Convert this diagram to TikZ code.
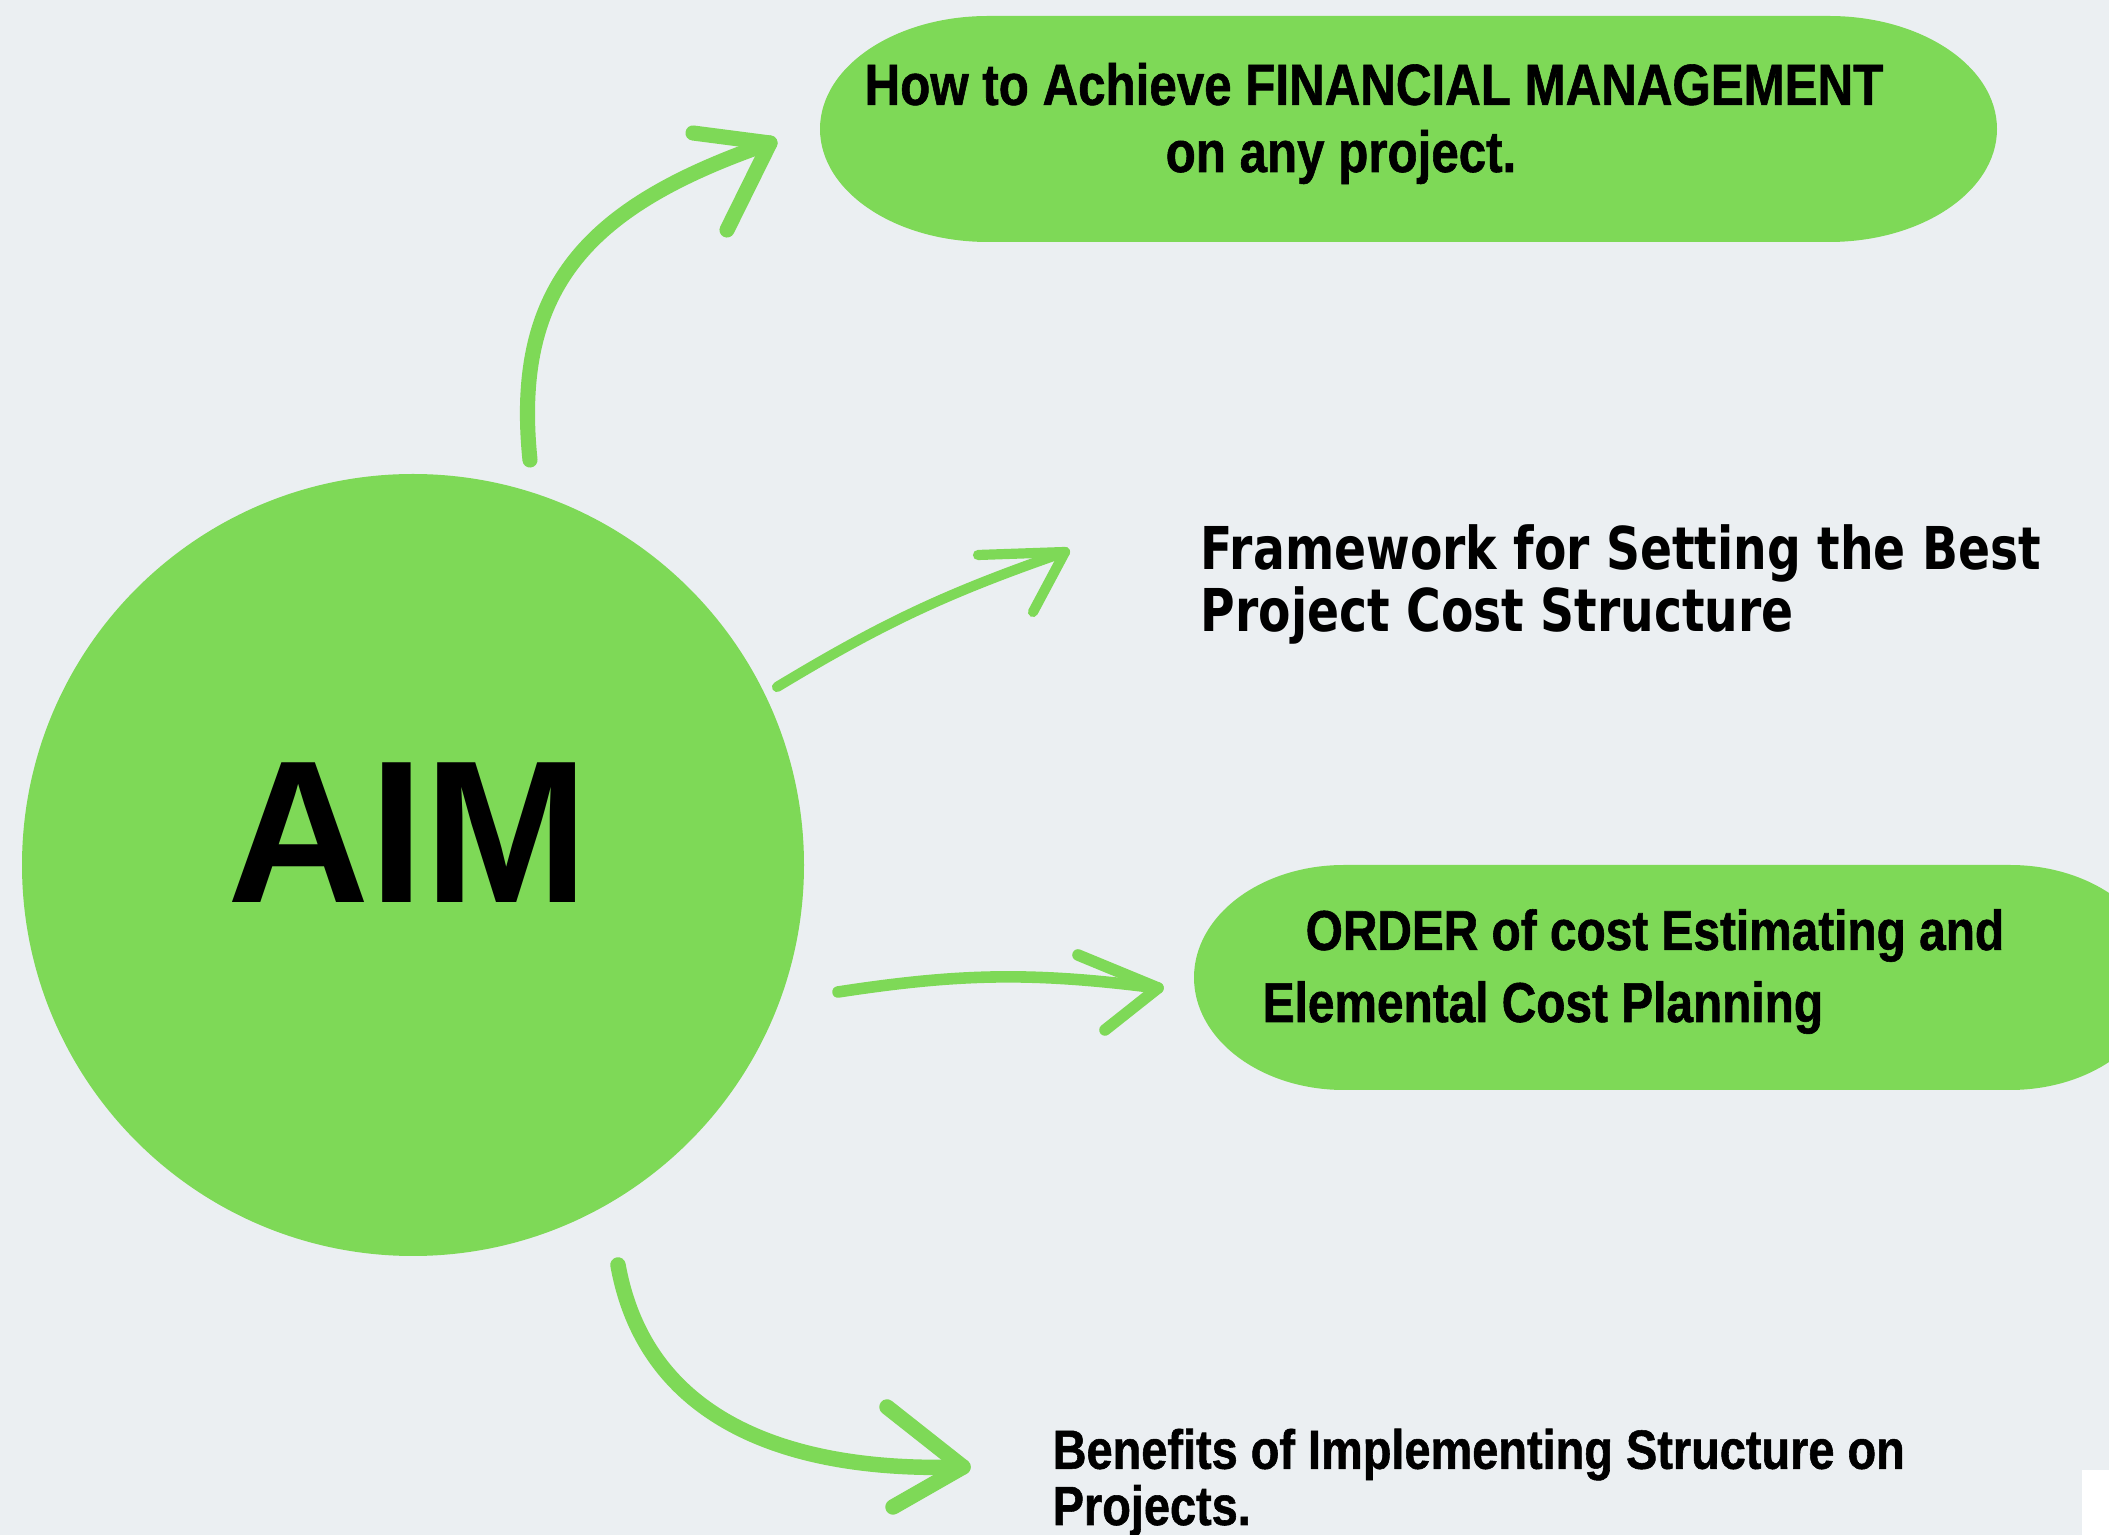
\documentclass[tikz,border=0pt]{standalone}
\usepackage{fontspec}
\usepackage{tikz}
\newfontfamily\headfont{Liberation Sans}[FakeStretch=0.85, FakeBold=1, UprightFont={* Bold}]
\newfontfamily\aimfont{Liberation Sans}[FakeStretch=0.97, UprightFont={* Bold}]
\newfontfamily\framefont{DejaVu Sans}[FakeStretch=0.80, UprightFont={* Bold}]
\definecolor{aimgreen}{HTML}{7ED957}
\definecolor{paper}{HTML}{EBEFF2}
\tikzset{
  brush/.style={draw=aimgreen, line width=3.6pt, line cap=round, line join=round},
  topic/.style={text=black, align=left, inner sep=0pt, anchor=base west},
}

\begin{document}
\begin{tikzpicture}
    \useasboundingbox (0,0) rectangle (21.09,15.35);
    \clip (0,0) rectangle (21.09,15.35);
    \fill [paper] (0,0) rectangle (21.09,15.35);
    \fill [white] (20.82,0) rectangle (21.09,0.65);
    %% central disc
    \node [circle, fill=aimgreen, minimum size=7.82cm, inner sep=0pt] (aim) at (4.13,6.70) {};
    \node [anchor=base, inner sep=0pt, font=\aimfont\fontsize{57.8}{60}\selectfont] (aimlabel) at (4.08,6.325) {AIM};
    %% pill boxes
    \fill [aimgreen] (9.88,15.19) -- (18.29,15.19) arc [start angle=90, end angle=-90, x radius=1.68, y radius=1.13]
      -- (9.88,12.93) arc [start angle=270, end angle=90, x radius=1.68, y radius=1.13] -- cycle;
    \fill [aimgreen] (13.44,6.70) -- (20.10,6.70) arc [start angle=90, end angle=-90, x radius=1.5, y radius=1.125]
      -- (13.44,4.45) arc [start angle=270, end angle=90, x radius=1.5, y radius=1.125] -- cycle;
    %% topics (base = last line)
    \node [topic, anchor=base, align=center, font=\headfont\fontsize{16.5}{19.1}\selectfont] (howto) at (13.74,13.63)
      {How to Achieve FINANCIAL MANAGEMENT\\\hspace*{-0.66cm}on any project.};
    \node [topic, font=\framefont\fontsize{16.8}{17.9}\selectfont] (frame) at (12.00,9.03)
      {Framework for Setting the Best\\Project Cost Structure};
    \node [topic, font=\headfont\fontsize{16}{20.5}\selectfont] (order) at (12.62,5.13)
      {\hspace*{0.43cm}ORDER of cost Estimating and\\Elemental Cost Planning};
    \node [topic, font=\headfont\fontsize{15.7}{16}\selectfont] (benefits) at (10.52,0.10)
      {Benefits of Implementing Structure on\\Projects.};
    %% arrow to howto
    \coordinate (u0) at (5.30,10.75);
    \coordinate (u1) at (7.70,13.92);
    \coordinate (u2) at (6.93,14.02);
    \coordinate (u3) at (7.27,13.05);
    \draw [brush, line width=4.3pt] (u0) .. controls (5.12,12.5) and (5.9,13.3) .. (u1);
    \draw [brush, line width=4.3pt] (u2) -- (u1) -- (u3);
    %% arrow to frame
    \coordinate (f0) at (7.77,8.48);
    \coordinate (f1) at (10.65,9.83);
    \coordinate (f2) at (9.78,9.80);
    \coordinate (f3) at (10.33,9.23);
    \draw [brush, line width=2.9pt] (f0) to [bend left=6] (f1);
    \draw [brush, line width=2.9pt] (f2) -- (f1) -- (f3);
    %% arrow to order
    \coordinate (o0) at (8.38,5.43);
    \coordinate (o1) at (11.58,5.47);
    \coordinate (o2) at (10.78,5.80);
    \coordinate (o3) at (11.05,5.05);
    \draw [brush, line width=3.3pt] (o0) to [bend left=8] (o1);
    \draw [brush, line width=3.3pt] (o2) -- (o1) -- (o3);
    %% arrow to benefits
    \coordinate (b0) at (6.18,2.70);
    \coordinate (b1) at (9.63,0.68);
    \coordinate (b2) at (8.87,1.28);
    \coordinate (b3) at (8.93,0.28);
    \draw [brush, line width=4.4pt] (b0) .. controls (6.45,1.2) and (7.8,0.62) .. (b1);
    \draw [brush, line width=4.4pt] (b2) -- (b1) -- (b3);
\end{tikzpicture}
\end{document}
